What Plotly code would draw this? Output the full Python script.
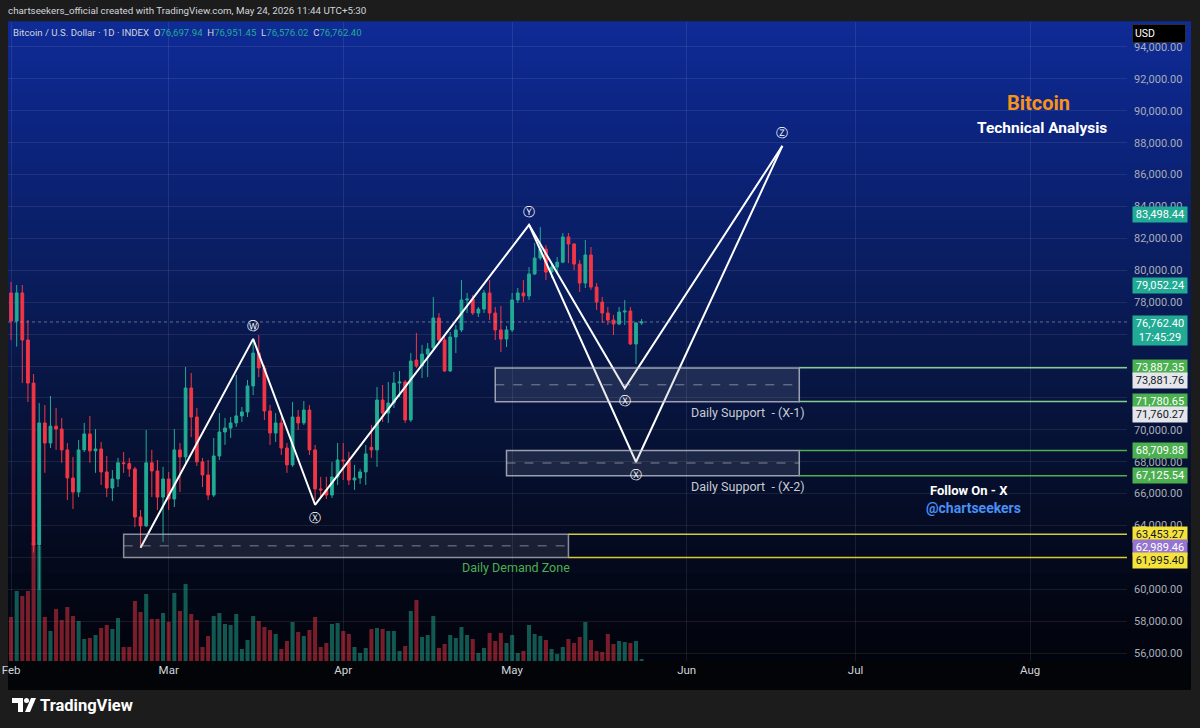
import plotly.graph_objects as go
import pandas as pd

# ---------------- DATA ----------------
dates = pd.date_range("2026-02-01", periods=113, freq="D")

open_ = [78580, 76820, 78580, 75630, 72930, 62780, 70430, 69170, 70230, 70050,
         68740, 66980, 66100, 68740, 69740, 68680, 68800, 67360, 66350, 66920,
         67930, 67880, 67550, 64530, 63970, 67930, 67420, 65780, 66920, 65660,
         68740, 68300, 72620, 70800, 67990, 67170, 65910, 68360, 69860, 70110,
         70430, 70870, 71120, 72750, 74810, 73880, 71180, 69800, 70430, 68860,
         67800, 70800, 70430, 71240, 68740, 66290, 66230, 65910, 67040, 68110,
         68050, 66850, 66980, 67360, 68900, 68740, 71870, 71050, 71680, 72930,
         73000, 70620, 74370, 74000, 74750, 75130, 77010, 75630, 73690, 75820,
         76260, 78140, 78200, 77320, 77570, 78580, 77320, 76260, 75690, 76260,
         78140, 78580, 78390, 79770, 80770, 81330, 79890, 80200, 80510, 82090,
         81650, 80390, 79200, 80960, 78950, 78010, 77320, 76880, 76630, 77380,
         77450, 75380, 76697.94]
high = [79270, 79080, 79080, 76880, 73500, 71680, 71550, 72120, 71370, 70740,
        69170, 68300, 69360, 70430, 70860, 70050, 69240, 68360, 67480, 68240,
        68610, 68240, 67680, 64970, 69990, 68740, 68110, 67680, 67360, 70050,
        69170, 73940, 73560, 71370, 68240, 68110, 69490, 71050, 70740, 70800,
        73440, 71430, 73120, 75630, 75940, 74060, 71560, 71050, 70800, 69170,
        71740, 71240, 71800, 71550, 69050, 67050, 67050, 67990, 69170, 69170,
        68620, 67800, 67550, 69050, 70300, 72680, 72810, 73000, 73620, 73690,
        73120, 74810, 76070, 75320, 75440, 78330, 77320, 75820, 76130, 76570,
        79390, 78580, 78450, 77700, 78770, 79390, 77700, 77760, 76510, 78580,
        78890, 79390, 80200, 81710, 82710, 81580, 80450, 80830, 82340, 82340,
        81700, 80640, 81900, 81460, 79200, 78330, 77700, 77200, 77700, 78140,
        77700, 76760, 76951.45]
low = [75630, 75210, 72930, 71740, 62300, 59960, 67300, 68860, 68740, 67930,
       65600, 65030, 65780, 68610, 67930, 67300, 66540, 65780, 65530, 66410,
       67300, 67050, 63900, 62600, 63910, 65780, 64970, 62970, 64970, 65160,
       66100, 67930, 69550, 67730, 66410, 65600, 65780, 68110, 69050, 69490,
       70180, 70490, 70800, 72180, 73300, 70620, 69050, 69240, 68420, 67300,
       67680, 69990, 70300, 68420, 65600, 65780, 65660, 65720, 66540, 66850,
       66540, 66230, 66600, 66540, 68240, 67680, 70490, 70430, 71370, 72060,
       70430, 70490, 73880, 73250, 73310, 75000, 75440, 73630, 73630, 74810,
       76130, 77320, 77200, 77070, 77320, 76880, 75630, 74880, 75190, 76130,
       77950, 78010, 78140, 79700, 80640, 79390, 79520, 79830, 80450, 80450,
       80010, 78640, 78890, 78770, 77510, 76700, 76570, 75940, 76570, 76570,
       75320, 74120, 76576.02]
close = [76820, 78580, 75630, 72930, 62780, 70430, 69170, 70230, 70050, 68740,
         66980, 66100, 68740, 69740, 68680, 68800, 67360, 66350, 66920, 67930,
         67880, 67550, 64530, 63970, 67930, 67420, 65780, 66920, 65660, 68740,
         68300, 72620, 70800, 67990, 67170, 65910, 68360, 69860, 70110, 70430,
         70870, 71120, 72750, 74810, 73880, 71180, 69800, 70430, 68860, 67800,
         70800, 70430, 71240, 68740, 66290, 66230, 65910, 67040, 68110, 68050,
         66850, 66980, 67360, 68490, 68740, 71870, 71050, 71680, 72930, 73000,
         70620, 74310, 74000, 74750, 75070, 77010, 75630, 73690, 75820, 76260,
         78140, 78200, 77320, 77570, 78580, 77320, 76260, 75690, 76260, 78140,
         78580, 78390, 79770, 80770, 81330, 79890, 80200, 80510, 82090, 81650,
         80390, 79200, 80960, 78950, 78010, 77320, 76880, 76630, 77380, 77450,
         75380, 76697.94, 76762.40]
volume = [44, 70, 65, 70, 118, 115, 44, 30, 52, 41,
          54, 45, 40, 22, 23, 26, 33, 36, 32, 43,
          14, 14, 60, 49, 67, 42, 42, 48, 39, 68,
          50, 77, 47, 41, 14, 25, 45, 48, 37, 36,
          47, 12, 21, 45, 40, 34, 31, 27, 12, 20,
          39, 29, 25, 31, 44, 14, 18, 37, 38, 30,
          27, 14, 8, 13, 32, 33, 32, 30, 30, 10,
          15, 50, 61, 24, 26, 45, 13, 17, 26, 23,
          34, 26, 22, 8, 13, 28, 20, 28, 18, 26,
          8, 10, 36, 27, 25, 21, 12, 7, 14, 22,
          18, 24, 39, 21, 10, 9, 27, 17, 20, 19,
          18, 20, 2]

# wave drawing (W-X-Y-X-Z)
zz1_dates = ["2026-02-24", "2026-03-16", "2026-03-27", "2026-05-04", "2026-05-21", "2026-06-18"]
zz1_prices = [62600, 75700, 65300, 82850, 72600, 87800]
zz2_dates = ["2026-05-04", "2026-05-23", "2026-06-18"]
zz2_prices = [82850, 67980, 87800]
wave_labels = ["Ⓦ", "Ⓧ", "Ⓨ", "Ⓧ", "Ⓩ", "Ⓧ"]
wave_dates = ["2026-03-16", "2026-03-27", "2026-05-04", "2026-05-21", "2026-06-18", "2026-05-23"]
wave_prices = [75700, 65300, 82850, 72600, 87800, 67980]
wave_side = [1, -1, 1, -1, 1, -1]

# zones
demand_zone = dict(start="2026-02-21", end="2026-05-11", top=63453.27, bottom=61995.40)
x1_zone = dict(start="2026-04-28", end="2026-06-21", top=73881.76, bottom=71760.27)
x2_zone = dict(start="2026-04-30", end="2026-06-21", top=68709.88, bottom=67125.54)
x1_lines = [73887.35, 71780.65]
x2_lines = [68709.88, 67125.54]
demand_lines = [63453.27, 61995.40]

current_price = 76762.40
ohlc_last = dict(O=76697.94, H=76951.45, L=76576.02, C=76762.40)

axis_label_prices = [83498.44, 79052.24, 73887.35, 73881.76, 71780.65, 71760.27,
                     68709.88, 67125.54, 63453.27, 62989.46, 61995.40]
axis_label_kind = ["teal", "teal", "green", "gray", "green", "gray",
                   "green", "green", "yellow", "purple", "yellow"]

price_ticks = list(range(56000, 94001, 2000))
hidden_ticks = [76000, 74000, 72000, 62000]   # covered by price labels in the reference

month_ticks = ["2026-02-01", "2026-03-01", "2026-04-01", "2026-05-01", "2026-06-01", "2026-07-01", "2026-08-01"]
month_text = ["Feb", "Mar", "Apr", "May", "Jun", "Jul", "Aug"]

# ---------------- STYLE / LAYOUT ----------------
GREEN = "#22ab94"
RED = "#f23645"
FONT = "Roboto"
W, H = 1200, 728
ML, MR, MT, MB = 8, 73, 22, 67
PW, PH = W - ML - MR, H - MT - MB
X_RANGE = ["2026-01-31 11:00", "2026-08-18 05:00"]
Y_RANGE = [55505, 95567]
X_END = X_RANGE[1]


def px(X):
    return (X - ML) / PW


def py(Y):
    return (H - MB - Y) / PH


fig = go.Figure()

vol_colors = ["rgba(34,171,148,0.5)" if c >= o else "rgba(242,54,69,0.5)" for o, c in zip(open_, close)]
fig.add_trace(go.Bar(x=dates, y=volume, marker=dict(color=vol_colors, line_width=0),
                     yaxis="y", hoverinfo="skip", showlegend=False))
fig.add_trace(go.Candlestick(x=dates, open=open_, high=high, low=low, close=close, yaxis="y2",
                             increasing=dict(line=dict(color=GREEN, width=1), fillcolor=GREEN),
                             decreasing=dict(line=dict(color=RED, width=1), fillcolor=RED),
                             whiskerwidth=0, hoverinfo="skip", showlegend=False))
for xs, ys in [(zz1_dates, zz1_prices), (zz2_dates, zz2_prices)]:
    fig.add_trace(go.Scatter(x=xs, y=ys, mode="lines", yaxis="y2",
                             line=dict(color="white", width=2), hoverinfo="skip", showlegend=False))

shapes = []
# gradient background
stops = [(22, (15, 43, 150)), (120, (12, 37, 130)), (250, (10, 30, 100)), (380, (8, 22, 68)),
         (500, (5, 13, 40)), (600, (3, 7, 21)), (661, (2, 4, 12))]


def col_at(Y):
    for (y0, c0), (y1, c1) in zip(stops[:-1], stops[1:]):
        if y0 <= Y <= y1:
            t = (Y - y0) / (y1 - y0)
            return "rgb(%d,%d,%d)" % tuple(round(a + (b - a) * t) for a, b in zip(c0, c1))
    return "rgb(%d,%d,%d)" % stops[-1][1]


band = 8
Y = 22
while Y < 661:
    Y2 = min(Y + band, 661)
    shapes.append(dict(type="rect", xref="paper", yref="paper", x0=0, x1=px(1191),
                       y0=py(Y2), y1=py(Y) + 0.001, fillcolor=col_at((Y + Y2) / 2),
                       line=dict(width=0), layer="below"))
    Y = Y2
# x-axis strip
shapes.append(dict(type="rect", xref="paper", yref="paper", x0=0, x1=px(1191), y0=py(690), y1=0,
                   fillcolor="#030407", line=dict(width=0), layer="below"))


def zone(z, fill, border):
    shapes.append(dict(type="rect", xref="x", yref="y2", x0=z["start"], x1=z["end"],
                       y0=z["bottom"], y1=z["top"], fillcolor=fill,
                       line=dict(color=border, width=1.5), layer="above"))
    mid = (z["top"] + z["bottom"]) / 2
    shapes.append(dict(type="line", xref="x", yref="y2", x0=z["start"], x1=z["end"], y0=mid, y1=mid,
                       line=dict(color="rgba(190,195,205,0.6)", width=1, dash="dash"), layer="above"))


zone(demand_zone, "rgba(140,145,160,0.16)", "rgba(190,194,204,0.7)")
zone(x1_zone, "rgba(140,145,160,0.18)", "rgba(200,204,214,0.75)")
zone(x2_zone, "rgba(140,145,160,0.18)", "rgba(200,204,214,0.75)")
for p in x1_lines:
    shapes.append(dict(type="line", xref="x", yref="y2", x0=x1_zone["end"], x1=X_END, y0=p, y1=p,
                       line=dict(color="#86cc8e", width=1.5)))
for p in x2_lines:
    shapes.append(dict(type="line", xref="x", yref="y2", x0=x2_zone["end"], x1=X_END, y0=p, y1=p,
                       line=dict(color="#4caf50", width=1.5)))
for p in demand_lines:
    shapes.append(dict(type="line", xref="x", yref="y2", x0=demand_zone["end"], x1=X_END, y0=p, y1=p,
                       line=dict(color="#d8c93a", width=1.5)))
# current price dotted line
shapes.append(dict(type="line", xref="paper", yref="y2", x0=0, x1=1, y0=current_price, y1=current_price,
                   line=dict(color="rgba(170,176,192,0.55)", width=1, dash="dot")))


# TradingView logo
def ppath(pts):
    return "M " + " L ".join("%f,%f" % (px(a), py(b)) for a, b in pts) + " Z"


shapes.append(dict(type="path", xref="paper", yref="paper",
                   path=ppath([(12, 698), (23, 698), (23, 712), (18, 712), (18, 703), (12, 703)]),
                   fillcolor="white", line=dict(width=0)))
shapes.append(dict(type="circle", xref="paper", yref="paper", x0=px(24), x1=px(29), y0=py(703), y1=py(698),
                   fillcolor="white", line=dict(width=0)))
shapes.append(dict(type="path", xref="paper", yref="paper",
                   path=ppath([(25, 712), (31, 698), (36, 698), (30, 712)]),
                   fillcolor="white", line=dict(width=0)))

ann = []


def ptext(X, Y, text, size, color, xanchor="center", bold=False):
    ann.append(dict(xref="paper", yref="paper", x=px(X), y=py(Y), xanchor=xanchor, yanchor="middle",
                    text=("<b>%s</b>" % text) if bold else text,
                    font=dict(family=FONT, size=size, color=color), showarrow=False))


ptext(6, 11, "chartseekers_official created with TradingView.com, May 24, 2026 11:44 UTC+5:30",
      9.8, "#d1d4dc", xanchor="left")


def tv(v):
    return "<span style='color:%s'>%s</span>" % (GREEN, f"{v:,.2f}")


hdr = ("Bitcoin / U.S. Dollar · 1D · INDEX  O" + tv(ohlc_last["O"]) + "  H" + tv(ohlc_last["H"]) +
       "  L" + tv(ohlc_last["L"]) + "  C" + tv(ohlc_last["C"]))
ptext(11, 32, hdr, 9.6, "#d1d4dc", xanchor="left")
ptext(1038, 103, "Bitcoin", 20, "#f7931a", bold=True)
ptext(1042, 128, "Technical Analysis", 15.5, "white", bold=True)
ptext(969, 490, "Follow On - X", 13, "white", bold=True)
ptext(973, 508, "@chartseekers", 14, "#4a8ff5", bold=True)
ptext(38, 705, "TradingView", 16.5, "white", xanchor="left", bold=True)

# zone labels
ann.append(dict(xref="x", yref="y2", x="2026-06-11 22:00", y=x1_zone["bottom"], yshift=-11,
                text="Daily Support  - (X-1)", font=dict(family=FONT, size=12.5, color="#c8cbd3"), showarrow=False))
ann.append(dict(xref="x", yref="y2", x="2026-06-11 22:00", y=x2_zone["bottom"], yshift=-11,
                text="Daily Support  - (X-2)", font=dict(family=FONT, size=12.5, color="#c8cbd3"), showarrow=False))
ann.append(dict(xref="x", yref="y2", x="2026-05-01 16:00", y=demand_zone["bottom"], yshift=-10,
                text="Daily Demand Zone", font=dict(family=FONT, size=12.5, color="#4caf50"), showarrow=False))
# wave labels
for t, d, p, s in zip(wave_labels, wave_dates, wave_prices, wave_side):
    ann.append(dict(xref="x", yref="y2", x=d, y=p, yshift=13 * s, text=t,
                    font=dict(family="DejaVu Sans", size=12, color="white"), showarrow=False))
# axis labels
styles = {"teal": ("#22ab94", "white"), "green": ("#4caf50", "white"), "gray": ("#e4e6eb", "#131722"),
          "yellow": ("#f5e23a", "#131722"), "purple": ("#9575cd", "white")}
shifts = [0, 0, 0, -13, 0, -13, 0, 0, 0, -6, -3]
for p, k, sh in zip(axis_label_prices, axis_label_kind, shifts):
    bg, fg = styles[k]
    ann.append(dict(xref="paper", yref="y2", x=1, xshift=5, y=p, yshift=sh, xanchor="left", yanchor="middle",
                    text=f"{p:,.2f}", bgcolor=bg, width=52, borderpad=1, align="center",
                    font=dict(family=FONT, size=11, color=fg), showarrow=False))
ann.append(dict(xref="paper", yref="y2", x=1, xshift=5, y=current_price, yshift=7, xanchor="left", yanchor="top",
                text=f"{current_price:,.2f}<br>17:45:29", bgcolor=GREEN, width=52, borderpad=1, align="center",
                font=dict(family=FONT, size=11, color="white"), showarrow=False))
# USD box
ann.append(dict(xref="paper", yref="paper", x=1, xshift=5, y=py(33), xanchor="left", yanchor="middle",
                text="USD", bgcolor="#000000", bordercolor="#2a2e39", borderwidth=1, width=48, borderpad=2,
                align="left", font=dict(family=FONT, size=10.5, color="white"), showarrow=False))

GRID = "rgba(255,255,255,0.085)"
tick_text = ["" if v in hidden_ticks else f"{v:,.2f}" for v in price_ticks]
fig.update_layout(
    width=W, height=H, margin=dict(l=ML, r=MR, t=MT, b=MB, autoexpand=False),
    paper_bgcolor="#1c1c1c", plot_bgcolor="rgba(0,0,0,0)",
    bargap=0.28, showlegend=False, shapes=shapes, annotations=ann,
    xaxis=dict(type="date", range=X_RANGE, rangeslider=dict(visible=False), automargin=False,
               tickvals=month_ticks, ticktext=month_text, showgrid=True, gridcolor=GRID,
               zeroline=False, showline=False, ticks="",
               tickfont=dict(family=FONT, size=11.5, color="#d1d4dc")),
    yaxis=dict(range=[0, PH], visible=False, showgrid=False, zeroline=False, automargin=False),
    yaxis2=dict(overlaying="y", side="right", range=Y_RANGE, tickvals=price_ticks, ticktext=tick_text,
                showgrid=True, gridcolor=GRID, zeroline=False, showline=False, ticks="", automargin=False,
                ticklabelstandoff=6, tickfont=dict(family=FONT, size=11, color="#a9adb8")),
)

fig.write_html("out.html", config={"displayModeBar": False},
               post_script="document.body.style.margin='0';document.body.style.overflow='hidden';"
                           "document.body.style.background='#1c1c1c';")
